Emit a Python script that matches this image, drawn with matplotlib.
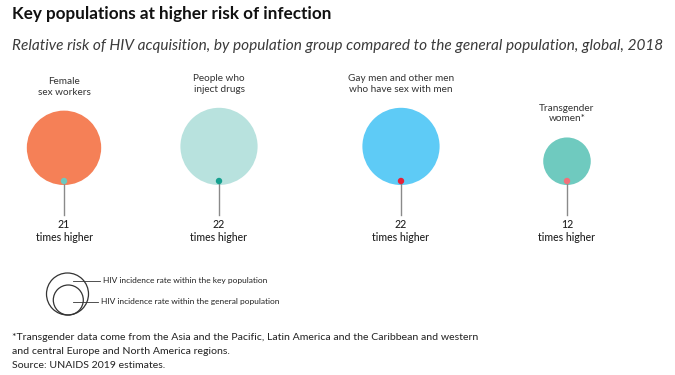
import matplotlib.pyplot as plt
from matplotlib.patches import Circle

plt.rcParams['font.family'] = ['Lato', 'DejaVu Sans']

groups = ["Female\nsex workers", "People who\ninject drugs",
          "Gay men and other men\nwho have sex with men", "Transgender\nwomen*"]
times_higher = [21, 22, 22, 12]
circle_colors = ["#f58057", "#b8e2de", "#5ecbf6", "#6fcabf"]
dot_colors = ["#6cc9bf", "#15a08f", "#e4213a", "#f2717a"]
centers_x = [64, 219, 401, 567]

fig = plt.figure(figsize=(6.75, 3.75), dpi=100)
ax = fig.add_axes([0, 0, 1, 1])
ax.set_xlim(0, 675)
ax.set_ylim(375, 0)
ax.set_aspect('equal')
ax.axis('off')

base_y = 185
max_r = 38.6
for x, v, cc, dc, lab in zip(centers_x, times_higher, circle_colors, dot_colors, groups):
    r = max_r * (v / max(times_higher)) ** 0.8
    ax.add_patch(Circle((x, base_y - r), r, color=cc, lw=0))
    ax.plot([x, x], [181, 215], color='#8a8a8a', lw=1, zorder=3)
    ax.add_patch(Circle((x, 181), 3.2, color=dc, lw=0, zorder=4))
    ax.text(x, 224, str(v), ha='center', va='center', fontsize=7.6,
            fontweight='medium', color='#222222')
    ax.text(x, 237.5, "times higher", ha='center', va='center', fontsize=7.6,
            fontweight='medium', color='#222222')
    ax.text(x, base_y - 2 * r - 14, lab, ha='center', va='bottom', fontsize=7.2,
            color='#333333', linespacing=1.25)

fig.text(12 / 675, 1 - 14 / 375, "Key populations at higher risk of infection",
         fontsize=12.3, fontweight='bold', va='center', color='#111111')
fig.text(12 / 675, 1 - 46 / 375,
         "Relative risk of HIV acquisition, by population group compared to the general population, global, 2018",
         fontsize=11.05, style='italic', fontweight='normal', va='center', color='#3a3a3a')

# legend
ax.add_patch(Circle((67.5, 294), 21, fill=False, ec='#333333', lw=0.9))
ax.add_patch(Circle((68.3, 300), 15, fill=False, ec='#333333', lw=0.9))
ax.plot([73, 100], [281, 281], color='#333333', lw=0.6)
ax.plot([73, 98], [301.5, 301.5], color='#333333', lw=0.6)
ax.text(103, 281, "HIV incidence rate within the key population", fontsize=6, va='center', color='#222222')
ax.text(101, 301.5, "HIV incidence rate within the general population", fontsize=6, va='center', color='#222222')

notes = ["*Transgender data come from the Asia and the Pacific, Latin America and the Caribbean and western",
         "and central Europe and North America regions.",
         "Source: UNAIDS 2019 estimates."]
for y, t in zip([337, 351, 366], notes):
    ax.text(12, y, t, fontsize=7.55, va='center', color='#222222')

fig.savefig("out.png", dpi=100)
